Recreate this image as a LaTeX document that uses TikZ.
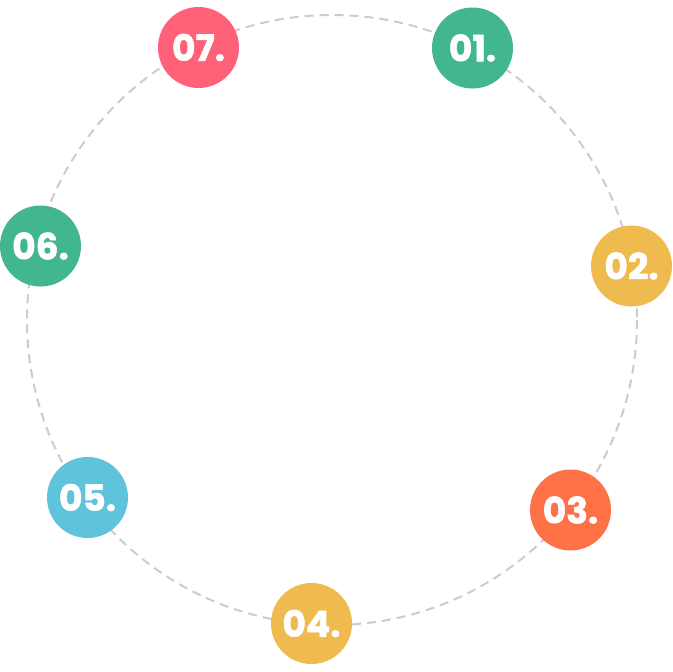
\documentclass[tikz,border=0pt]{standalone}
\usepackage{fontspec}
\newfontfamily\pop[BoldFeatures={FakeBold=1.6}]{Poppins}
\definecolor{cpink}{HTML}{FF6179}
\definecolor{cgreen}{HTML}{42B68C}
\definecolor{cyellow}{HTML}{F0BB4E}
\definecolor{corange}{HTML}{FF7147}
\definecolor{ccyan}{HTML}{5EC3DB}
\definecolor{cdash}{HTML}{CCCCCC}
\begin{document}
\begin{tikzpicture}[x=1pt,y=-1pt,
  num/.style={circle,fill=#1,minimum size=81pt,inner sep=0pt,text=white,
    font=\pop\bfseries\fontsize{36}{36}\selectfont},
  ring/.style={draw=cdash,line width=2pt,dash pattern=on 9pt off 6pt}]
\useasboundingbox (0,0) rectangle (672,672);
\draw[ring] (332,320) circle[radius=305];
\node[num=cpink]   (n7) at (198.5,47.5) {07.};
\node[num=cgreen]  (n1) at (472.5,48)   {01.};
\node[num=cgreen]  (n6) at (40.5,246)   {06.};
\node[num=cyellow] (n2) at (631.5,266)  {02.};
\node[num=corange] (n3) at (570.5,510)  {03.};
\node[num=ccyan]   (n5) at (87.5,497.5) {05.};
\node[num=cyellow] (n4) at (311.5,623.5){04.};
\end{tikzpicture}
\end{document}
